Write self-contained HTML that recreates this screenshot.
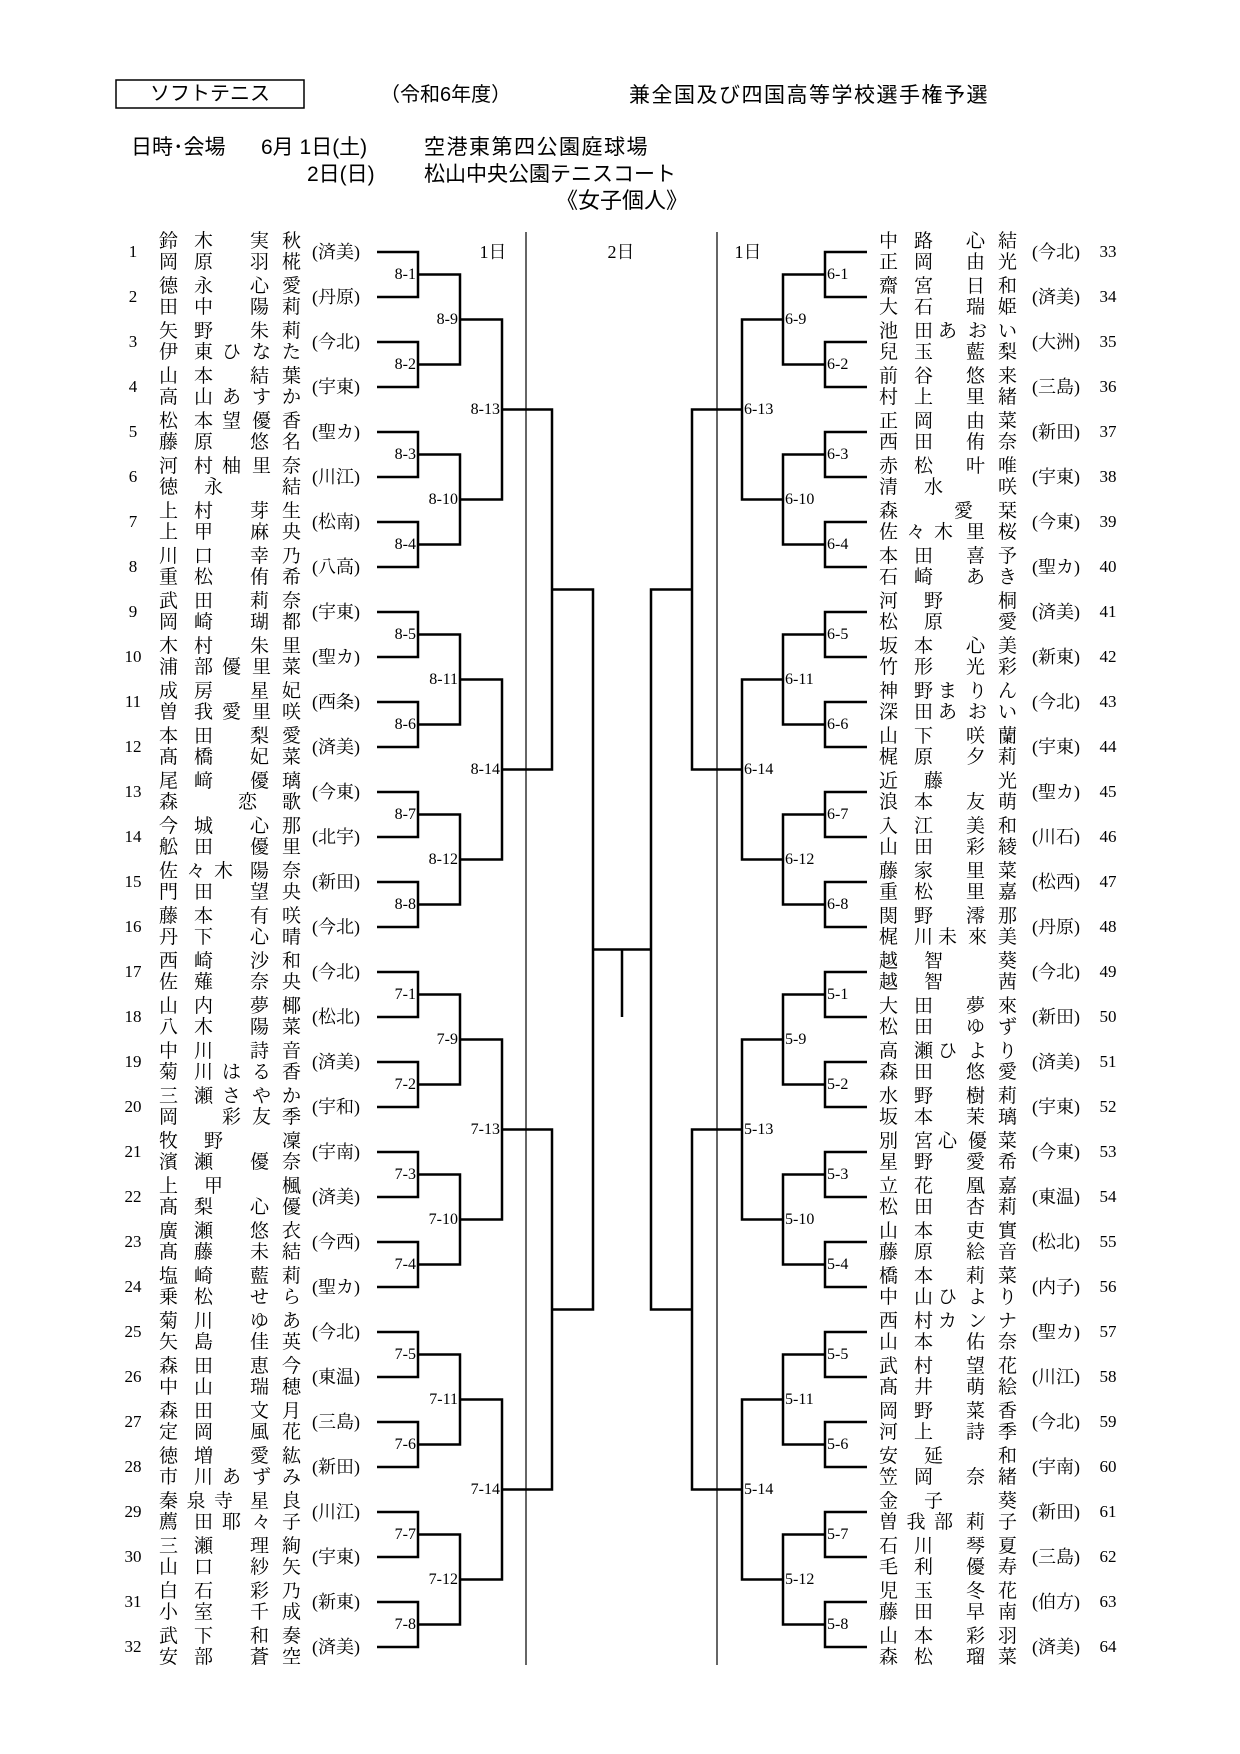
<!DOCTYPE html>
<html><head><meta charset="utf-8">
<style>
html,body{margin:0;padding:0;background:#fff;}
body{width:1240px;height:1754px;position:relative;overflow:hidden;font-family:"Liberation Serif","Noto Serif CJK JP","Noto Serif CJK SC",serif;color:#000;}
.h{position:absolute;font-family:"Liberation Sans","Noto Sans CJK JP",sans-serif;white-space:nowrap;line-height:1;}
.p{position:absolute;width:142px;height:42px;font-size:19px;}
.L{left:159px;}
.R{left:879px;width:138px;}
.n{position:relative;height:21px;line-height:21px;white-space:nowrap;}
.s{position:absolute;left:0;top:0;}
.g{position:absolute;right:0;top:0;}
.s2{letter-spacing:16px;}
.s3{letter-spacing:8.5px;}
.sw{letter-spacing:26px;}
.g2{letter-spacing:13px;right:-13px;}
.g3{letter-spacing:11px;right:-11px;}
.gw{letter-spacing:25px;right:-25px;}
.af{position:absolute;left:145px;width:64px;top:11px;height:20px;line-height:20px;text-align:center;font-size:18px;}
.no{position:absolute;width:30px;top:11px;height:20px;line-height:20px;text-align:center;font-size:17px;}
.L .no{left:-41px;}
.R .no{left:214px;}
</style></head><body>
<svg width="1240" height="1754" style="position:absolute;left:0;top:0">
<rect x="116" y="80" width="188" height="28" fill="none" stroke="#000" stroke-width="1.5"/>
<line x1="526" y1="232" x2="526" y2="1665" stroke="#000" stroke-width="1.2"/>
<line x1="717" y1="232" x2="717" y2="1665" stroke="#000" stroke-width="1.2"/>
<g fill="none" stroke="#000" stroke-width="2.5">
<path d="M377 252H418V297H377M377 342H418V387H377M377 432H418V477H377M377 522H418V567H377M377 612H418V657H377M377 702H418V747H377M377 792H418V837H377M377 882H418V927H377M377 972H418V1017H377M377 1062H418V1107H377M377 1152H418V1197H377M377 1242H418V1287H377M377 1332H418V1377H377M377 1422H418V1467H377M377 1512H418V1557H377M377 1602H418V1647H377"/>
<path d="M418 274.5H460V364.5H418M418 454.5H460V544.5H418M418 634.5H460V724.5H418M418 814.5H460V904.5H418M418 994.5H460V1084.5H418M418 1174.5H460V1264.5H418M418 1354.5H460V1444.5H418M418 1534.5H460V1624.5H418"/>
<path d="M460 319.5H502V499.5H460M460 679.5H502V859.5H460M460 1039.5H502V1219.5H460M460 1399.5H502V1579.5H460"/>
<path d="M502 409.5H552V769.5H502M502 1129.5H552V1489.5H502"/>
<path d="M552 589.5H593V1309.5H552"/>
<path d="M867 252H825V297H867M867 342H825V387H867M867 432H825V477H867M867 522H825V567H867M867 612H825V657H867M867 702H825V747H867M867 792H825V837H867M867 882H825V927H867M867 972H825V1017H867M867 1062H825V1107H867M867 1152H825V1197H867M867 1242H825V1287H867M867 1332H825V1377H867M867 1422H825V1467H867M867 1512H825V1557H867M867 1602H825V1647H867"/>
<path d="M825 274.5H783V364.5H825M825 454.5H783V544.5H825M825 634.5H783V724.5H825M825 814.5H783V904.5H825M825 994.5H783V1084.5H825M825 1174.5H783V1264.5H825M825 1354.5H783V1444.5H825M825 1534.5H783V1624.5H825"/>
<path d="M783 319.5H742V499.5H783M783 679.5H742V859.5H783M783 1039.5H742V1219.5H783M783 1399.5H742V1579.5H783"/>
<path d="M742 409.5H692V769.5H742M742 1129.5H692V1489.5H742"/>
<path d="M692 589.5H651V1309.5H692"/>
<path d="M593 949.5H651M622 949.5V1017"/>
</g>
<g font-family="Liberation Serif, serif" font-size="16" dominant-baseline="central">
<g text-anchor="end">
<text x="416" y="274.5">8-1</text><text x="416" y="364.5">8-2</text><text x="416" y="454.5">8-3</text><text x="416" y="544.5">8-4</text>
<text x="416" y="634.5">8-5</text><text x="416" y="724.5">8-6</text><text x="416" y="814.5">8-7</text><text x="416" y="904.5">8-8</text>
<text x="416" y="994.5">7-1</text><text x="416" y="1084.5">7-2</text><text x="416" y="1174.5">7-3</text><text x="416" y="1264.5">7-4</text>
<text x="416" y="1354.5">7-5</text><text x="416" y="1444.5">7-6</text><text x="416" y="1534.5">7-7</text><text x="416" y="1624.5">7-8</text>
<text x="458" y="319.5">8-9</text><text x="458" y="499.5">8-10</text><text x="458" y="679.5">8-11</text><text x="458" y="859.5">8-12</text>
<text x="458" y="1039.5">7-9</text><text x="458" y="1219.5">7-10</text><text x="458" y="1399.5">7-11</text><text x="458" y="1579.5">7-12</text>
<text x="500" y="409.5">8-13</text><text x="500" y="769.5">8-14</text><text x="500" y="1129.5">7-13</text><text x="500" y="1489.5">7-14</text>
</g>
<g text-anchor="start">
<text x="827" y="274.5">6-1</text><text x="827" y="364.5">6-2</text><text x="827" y="454.5">6-3</text><text x="827" y="544.5">6-4</text>
<text x="827" y="634.5">6-5</text><text x="827" y="724.5">6-6</text><text x="827" y="814.5">6-7</text><text x="827" y="904.5">6-8</text>
<text x="827" y="994.5">5-1</text><text x="827" y="1084.5">5-2</text><text x="827" y="1174.5">5-3</text><text x="827" y="1264.5">5-4</text>
<text x="827" y="1354.5">5-5</text><text x="827" y="1444.5">5-6</text><text x="827" y="1534.5">5-7</text><text x="827" y="1624.5">5-8</text>
<text x="785" y="319.5">6-9</text><text x="785" y="499.5">6-10</text><text x="785" y="679.5">6-11</text><text x="785" y="859.5">6-12</text>
<text x="744" y="409.5">6-13</text><text x="744" y="769.5">6-14</text><text x="744" y="1129.5">5-13</text><text x="744" y="1489.5">5-14</text>
<text x="785" y="1039.5">5-9</text><text x="785" y="1219.5">5-10</text><text x="785" y="1399.5">5-11</text><text x="785" y="1579.5">5-12</text>
</g>
</g>
<g font-family="Liberation Serif, Noto Serif CJK JP, serif" font-size="18" text-anchor="middle" dominant-baseline="central">
<text x="493" y="252">1日</text><text x="621" y="252">2日</text><text x="748" y="252">1日</text>
</g>
</svg>

<div class="h" style="left:116px;top:84px;width:188px;text-align:center;font-size:20px;">ソフトテニス</div>
<div class="h" style="left:380px;top:85px;font-size:20px;">（令和6年度）</div>
<div class="h" style="left:629px;top:85px;font-size:21px;letter-spacing:1.5px;">兼全国及び四国高等学校選手権予選</div>
<div class="h" style="left:131px;top:137px;font-size:21px;">日時･会場</div>
<div class="h" style="left:261px;top:137px;font-size:21px;">6月 1日(土)</div>
<div class="h" style="left:424px;top:137px;font-size:21px;letter-spacing:1.5px;">空港東第四公園庭球場</div>
<div class="h" style="left:307px;top:164px;font-size:21px;">2日(日)</div>
<div class="h" style="left:424px;top:164px;font-size:21px;">松山中央公園テニスコート</div>
<div class="h" style="left:556px;top:190px;font-size:22px;">《女子個人》</div>

<!-- LEFT -->
<div class="p L" style="top:231px"><span class="no">1</span><span class="af">(済美)</span><div class="n"><span class="s s2">鈴木</span><span class="g g2">実秋</span></div><div class="n"><span class="s s2">岡原</span><span class="g g2">羽椛</span></div></div>
<div class="p L" style="top:276px"><span class="no">2</span><span class="af">(丹原)</span><div class="n"><span class="s s2">德永</span><span class="g g2">心愛</span></div><div class="n"><span class="s s2">田中</span><span class="g g2">陽莉</span></div></div>
<div class="p L" style="top:321px"><span class="no">3</span><span class="af">(今北)</span><div class="n"><span class="s s2">矢野</span><span class="g g2">朱莉</span></div><div class="n"><span class="s s2">伊東</span><span class="g g3">ひなた</span></div></div>
<div class="p L" style="top:366px"><span class="no">4</span><span class="af">(宇東)</span><div class="n"><span class="s s2">山本</span><span class="g g2">結葉</span></div><div class="n"><span class="s s2">高山</span><span class="g g3">あすか</span></div></div>
<div class="p L" style="top:411px"><span class="no">5</span><span class="af">(聖カ)</span><div class="n"><span class="s s2">松本</span><span class="g g3">望優香</span></div><div class="n"><span class="s s2">藤原</span><span class="g g2">悠名</span></div></div>
<div class="p L" style="top:456px"><span class="no">6</span><span class="af">(川江)</span><div class="n"><span class="s s2">河村</span><span class="g g3">柚里奈</span></div><div class="n"><span class="s sw">徳永</span><span class="g">結</span></div></div>
<div class="p L" style="top:501px"><span class="no">7</span><span class="af">(松南)</span><div class="n"><span class="s s2">上村</span><span class="g g2">芽生</span></div><div class="n"><span class="s s2">上甲</span><span class="g g2">麻央</span></div></div>
<div class="p L" style="top:546px"><span class="no">8</span><span class="af">(八高)</span><div class="n"><span class="s s2">川口</span><span class="g g2">幸乃</span></div><div class="n"><span class="s s2">重松</span><span class="g g2">侑希</span></div></div>
<div class="p L" style="top:591px"><span class="no">9</span><span class="af">(宇東)</span><div class="n"><span class="s s2">武田</span><span class="g g2">莉奈</span></div><div class="n"><span class="s s2">岡崎</span><span class="g g2">瑚都</span></div></div>
<div class="p L" style="top:636px"><span class="no">10</span><span class="af">(聖カ)</span><div class="n"><span class="s s2">木村</span><span class="g g2">朱里</span></div><div class="n"><span class="s s2">浦部</span><span class="g g3">優里菜</span></div></div>
<div class="p L" style="top:681px"><span class="no">11</span><span class="af">(西条)</span><div class="n"><span class="s s2">成房</span><span class="g g2">星妃</span></div><div class="n"><span class="s s2">曽我</span><span class="g g3">愛里咲</span></div></div>
<div class="p L" style="top:726px"><span class="no">12</span><span class="af">(済美)</span><div class="n"><span class="s s2">本田</span><span class="g g2">梨愛</span></div><div class="n"><span class="s s2">髙橋</span><span class="g g2">妃菜</span></div></div>
<div class="p L" style="top:771px"><span class="no">13</span><span class="af">(今東)</span><div class="n"><span class="s s2">尾﨑</span><span class="g g2">優璃</span></div><div class="n"><span class="s">森</span><span class="g gw">恋歌</span></div></div>
<div class="p L" style="top:816px"><span class="no">14</span><span class="af">(北宇)</span><div class="n"><span class="s s2">今城</span><span class="g g2">心那</span></div><div class="n"><span class="s s2">舩田</span><span class="g g2">優里</span></div></div>
<div class="p L" style="top:861px"><span class="no">15</span><span class="af">(新田)</span><div class="n"><span class="s s3">佐々木</span><span class="g g2">陽奈</span></div><div class="n"><span class="s s2">門田</span><span class="g g2">望央</span></div></div>
<div class="p L" style="top:906px"><span class="no">16</span><span class="af">(今北)</span><div class="n"><span class="s s2">藤本</span><span class="g g2">有咲</span></div><div class="n"><span class="s s2">丹下</span><span class="g g2">心晴</span></div></div>
<div class="p L" style="top:951px"><span class="no">17</span><span class="af">(今北)</span><div class="n"><span class="s s2">西崎</span><span class="g g2">沙和</span></div><div class="n"><span class="s s2">佐薙</span><span class="g g2">奈央</span></div></div>
<div class="p L" style="top:996px"><span class="no">18</span><span class="af">(松北)</span><div class="n"><span class="s s2">山内</span><span class="g g2">夢椰</span></div><div class="n"><span class="s s2">八木</span><span class="g g2">陽菜</span></div></div>
<div class="p L" style="top:1041px"><span class="no">19</span><span class="af">(済美)</span><div class="n"><span class="s s2">中川</span><span class="g g2">詩音</span></div><div class="n"><span class="s s2">菊川</span><span class="g g3">はる香</span></div></div>
<div class="p L" style="top:1086px"><span class="no">20</span><span class="af">(宇和)</span><div class="n"><span class="s s2">三瀬</span><span class="g g3">さやか</span></div><div class="n"><span class="s">岡</span><span class="g g3">彩友季</span></div></div>
<div class="p L" style="top:1131px"><span class="no">21</span><span class="af">(宇南)</span><div class="n"><span class="s sw">牧野</span><span class="g">凜</span></div><div class="n"><span class="s s2">濱瀬</span><span class="g g2">優奈</span></div></div>
<div class="p L" style="top:1176px"><span class="no">22</span><span class="af">(済美)</span><div class="n"><span class="s sw">上甲</span><span class="g">楓</span></div><div class="n"><span class="s s2">髙梨</span><span class="g g2">心優</span></div></div>
<div class="p L" style="top:1221px"><span class="no">23</span><span class="af">(今西)</span><div class="n"><span class="s s2">廣瀬</span><span class="g g2">悠衣</span></div><div class="n"><span class="s s2">髙藤</span><span class="g g2">未結</span></div></div>
<div class="p L" style="top:1266px"><span class="no">24</span><span class="af">(聖カ)</span><div class="n"><span class="s s2">塩崎</span><span class="g g2">藍莉</span></div><div class="n"><span class="s s2">乗松</span><span class="g g2">せら</span></div></div>
<div class="p L" style="top:1311px"><span class="no">25</span><span class="af">(今北)</span><div class="n"><span class="s s2">菊川</span><span class="g g2">ゆあ</span></div><div class="n"><span class="s s2">矢島</span><span class="g g2">佳英</span></div></div>
<div class="p L" style="top:1356px"><span class="no">26</span><span class="af">(東温)</span><div class="n"><span class="s s2">森田</span><span class="g g2">恵今</span></div><div class="n"><span class="s s2">中山</span><span class="g g2">瑞穂</span></div></div>
<div class="p L" style="top:1401px"><span class="no">27</span><span class="af">(三島)</span><div class="n"><span class="s s2">森田</span><span class="g g2">文月</span></div><div class="n"><span class="s s2">定岡</span><span class="g g2">風花</span></div></div>
<div class="p L" style="top:1446px"><span class="no">28</span><span class="af">(新田)</span><div class="n"><span class="s s2">徳増</span><span class="g g2">愛紘</span></div><div class="n"><span class="s s2">市川</span><span class="g g3">あずみ</span></div></div>
<div class="p L" style="top:1491px"><span class="no">29</span><span class="af">(川江)</span><div class="n"><span class="s s3">秦泉寺</span><span class="g g2">星良</span></div><div class="n"><span class="s s2">薦田</span><span class="g g3">耶々子</span></div></div>
<div class="p L" style="top:1536px"><span class="no">30</span><span class="af">(宇東)</span><div class="n"><span class="s s2">三瀬</span><span class="g g2">理絢</span></div><div class="n"><span class="s s2">山口</span><span class="g g2">紗矢</span></div></div>
<div class="p L" style="top:1581px"><span class="no">31</span><span class="af">(新東)</span><div class="n"><span class="s s2">白石</span><span class="g g2">彩乃</span></div><div class="n"><span class="s s2">小室</span><span class="g g2">千成</span></div></div>
<div class="p L" style="top:1626px"><span class="no">32</span><span class="af">(済美)</span><div class="n"><span class="s s2">武下</span><span class="g g2">和奏</span></div><div class="n"><span class="s s2">安部</span><span class="g g2">蒼空</span></div></div>

<!-- RIGHT -->
<div class="p R" style="top:231px"><span class="no">33</span><span class="af">(今北)</span><div class="n"><span class="s s2">中路</span><span class="g g2">心結</span></div><div class="n"><span class="s s2">正岡</span><span class="g g2">由光</span></div></div>
<div class="p R" style="top:276px"><span class="no">34</span><span class="af">(済美)</span><div class="n"><span class="s s2">齋宮</span><span class="g g2">日和</span></div><div class="n"><span class="s s2">大石</span><span class="g g2">瑞姫</span></div></div>
<div class="p R" style="top:321px"><span class="no">35</span><span class="af">(大洲)</span><div class="n"><span class="s s2">池田</span><span class="g g3">あおい</span></div><div class="n"><span class="s s2">兒玉</span><span class="g g2">藍梨</span></div></div>
<div class="p R" style="top:366px"><span class="no">36</span><span class="af">(三島)</span><div class="n"><span class="s s2">前谷</span><span class="g g2">悠来</span></div><div class="n"><span class="s s2">村上</span><span class="g g2">里緒</span></div></div>
<div class="p R" style="top:411px"><span class="no">37</span><span class="af">(新田)</span><div class="n"><span class="s s2">正岡</span><span class="g g2">由菜</span></div><div class="n"><span class="s s2">西田</span><span class="g g2">侑奈</span></div></div>
<div class="p R" style="top:456px"><span class="no">38</span><span class="af">(宇東)</span><div class="n"><span class="s s2">赤松</span><span class="g g2">叶唯</span></div><div class="n"><span class="s sw">清水</span><span class="g">咲</span></div></div>
<div class="p R" style="top:501px"><span class="no">39</span><span class="af">(今東)</span><div class="n"><span class="s">森</span><span class="g gw">愛栞</span></div><div class="n"><span class="s s3">佐々木</span><span class="g g2">里桜</span></div></div>
<div class="p R" style="top:546px"><span class="no">40</span><span class="af">(聖カ)</span><div class="n"><span class="s s2">本田</span><span class="g g2">喜予</span></div><div class="n"><span class="s s2">石崎</span><span class="g g2">あき</span></div></div>
<div class="p R" style="top:591px"><span class="no">41</span><span class="af">(済美)</span><div class="n"><span class="s sw">河野</span><span class="g">桐</span></div><div class="n"><span class="s sw">松原</span><span class="g">愛</span></div></div>
<div class="p R" style="top:636px"><span class="no">42</span><span class="af">(新東)</span><div class="n"><span class="s s2">坂本</span><span class="g g2">心美</span></div><div class="n"><span class="s s2">竹形</span><span class="g g2">光彩</span></div></div>
<div class="p R" style="top:681px"><span class="no">43</span><span class="af">(今北)</span><div class="n"><span class="s s2">神野</span><span class="g g3">まりん</span></div><div class="n"><span class="s s2">深田</span><span class="g g3">あおい</span></div></div>
<div class="p R" style="top:726px"><span class="no">44</span><span class="af">(宇東)</span><div class="n"><span class="s s2">山下</span><span class="g g2">咲蘭</span></div><div class="n"><span class="s s2">梶原</span><span class="g g2">夕莉</span></div></div>
<div class="p R" style="top:771px"><span class="no">45</span><span class="af">(聖カ)</span><div class="n"><span class="s sw">近藤</span><span class="g">光</span></div><div class="n"><span class="s s2">浪本</span><span class="g g2">友萌</span></div></div>
<div class="p R" style="top:816px"><span class="no">46</span><span class="af">(川石)</span><div class="n"><span class="s s2">入江</span><span class="g g2">美和</span></div><div class="n"><span class="s s2">山田</span><span class="g g2">彩綾</span></div></div>
<div class="p R" style="top:861px"><span class="no">47</span><span class="af">(松西)</span><div class="n"><span class="s s2">藤家</span><span class="g g2">里菜</span></div><div class="n"><span class="s s2">重松</span><span class="g g2">里嘉</span></div></div>
<div class="p R" style="top:906px"><span class="no">48</span><span class="af">(丹原)</span><div class="n"><span class="s s2">関野</span><span class="g g2">澪那</span></div><div class="n"><span class="s s2">梶川</span><span class="g g3">未來美</span></div></div>
<div class="p R" style="top:951px"><span class="no">49</span><span class="af">(今北)</span><div class="n"><span class="s sw">越智</span><span class="g">葵</span></div><div class="n"><span class="s sw">越智</span><span class="g">茜</span></div></div>
<div class="p R" style="top:996px"><span class="no">50</span><span class="af">(新田)</span><div class="n"><span class="s s2">大田</span><span class="g g2">夢來</span></div><div class="n"><span class="s s2">松田</span><span class="g g2">ゆず</span></div></div>
<div class="p R" style="top:1041px"><span class="no">51</span><span class="af">(済美)</span><div class="n"><span class="s s2">高瀬</span><span class="g g3">ひより</span></div><div class="n"><span class="s s2">森田</span><span class="g g2">悠愛</span></div></div>
<div class="p R" style="top:1086px"><span class="no">52</span><span class="af">(宇東)</span><div class="n"><span class="s s2">水野</span><span class="g g2">樹莉</span></div><div class="n"><span class="s s2">坂本</span><span class="g g2">茉璃</span></div></div>
<div class="p R" style="top:1131px"><span class="no">53</span><span class="af">(今東)</span><div class="n"><span class="s s2">別宮</span><span class="g g3">心優菜</span></div><div class="n"><span class="s s2">星野</span><span class="g g2">愛希</span></div></div>
<div class="p R" style="top:1176px"><span class="no">54</span><span class="af">(東温)</span><div class="n"><span class="s s2">立花</span><span class="g g2">凰嘉</span></div><div class="n"><span class="s s2">松田</span><span class="g g2">杏莉</span></div></div>
<div class="p R" style="top:1221px"><span class="no">55</span><span class="af">(松北)</span><div class="n"><span class="s s2">山本</span><span class="g g2">吏實</span></div><div class="n"><span class="s s2">藤原</span><span class="g g2">絵音</span></div></div>
<div class="p R" style="top:1266px"><span class="no">56</span><span class="af">(内子)</span><div class="n"><span class="s s2">橋本</span><span class="g g2">莉菜</span></div><div class="n"><span class="s s2">中山</span><span class="g g3">ひより</span></div></div>
<div class="p R" style="top:1311px"><span class="no">57</span><span class="af">(聖カ)</span><div class="n"><span class="s s2">西村</span><span class="g g3">カンナ</span></div><div class="n"><span class="s s2">山本</span><span class="g g2">佑奈</span></div></div>
<div class="p R" style="top:1356px"><span class="no">58</span><span class="af">(川江)</span><div class="n"><span class="s s2">武村</span><span class="g g2">望花</span></div><div class="n"><span class="s s2">髙井</span><span class="g g2">萌絵</span></div></div>
<div class="p R" style="top:1401px"><span class="no">59</span><span class="af">(今北)</span><div class="n"><span class="s s2">岡野</span><span class="g g2">菜香</span></div><div class="n"><span class="s s2">河上</span><span class="g g2">詩季</span></div></div>
<div class="p R" style="top:1446px"><span class="no">60</span><span class="af">(宇南)</span><div class="n"><span class="s sw">安延</span><span class="g">和</span></div><div class="n"><span class="s s2">笠岡</span><span class="g g2">奈緒</span></div></div>
<div class="p R" style="top:1491px"><span class="no">61</span><span class="af">(新田)</span><div class="n"><span class="s sw">金子</span><span class="g">葵</span></div><div class="n"><span class="s s3">曽我部</span><span class="g g2">莉子</span></div></div>
<div class="p R" style="top:1536px"><span class="no">62</span><span class="af">(三島)</span><div class="n"><span class="s s2">石川</span><span class="g g2">琴夏</span></div><div class="n"><span class="s s2">毛利</span><span class="g g2">優寿</span></div></div>
<div class="p R" style="top:1581px"><span class="no">63</span><span class="af">(伯方)</span><div class="n"><span class="s s2">児玉</span><span class="g g2">冬花</span></div><div class="n"><span class="s s2">藤田</span><span class="g g2">早南</span></div></div>
<div class="p R" style="top:1626px"><span class="no">64</span><span class="af">(済美)</span><div class="n"><span class="s s2">山本</span><span class="g g2">彩羽</span></div><div class="n"><span class="s s2">森松</span><span class="g g2">瑠菜</span></div></div>
</body></html>
